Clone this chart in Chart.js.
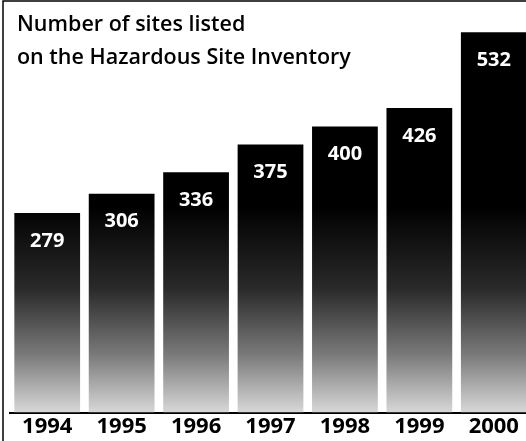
<!DOCTYPE html>
<html>
<head>
<meta charset="utf-8">
<script src="https://cdn.jsdelivr.net/npm/chart.js@4"></script>
<style>
  html, body { margin: 0; padding: 0; background: #fff; overflow: hidden; }
  #wrap { position: relative; width: 531px; height: 441px; }
</style>
</head>
<body>
<div id="wrap"><canvas id="chart"></canvas></div>
<script>
const years = ["1994", "1995", "1996", "1997", "1998", "1999", "2000"];
const sites = [279, 306, 336, 375, 400, 426, 532];
const titleLines = ["Number of sites listed", "on the Hazardous Site Inventory"];

const FONT = "'Open Sans', 'Noto Sans', sans-serif";

// title, frame lines and value labels inside the bars
const decor = {
    id: "decor",
    afterDraw(chart){
        const c = chart.ctx;
        c.save();
        c.strokeStyle = "#000";
        c.lineWidth = 1.5;
        c.beginPath();
        c.moveTo(3, 441);
        c.lineTo(3, 1);
        c.lineTo(526, 1);
        c.stroke();

        c.fillStyle = "#000";
        c.font = "600 21.5px " + FONT;
        c.textBaseline = "alphabetic";
        c.textAlign = "left";
        c.fillText(titleLines[0], 17, 31);
        c.fillText(titleLines[1], 17, 64);

        const meta = chart.getDatasetMeta(0);
        c.fillStyle = "#fff";
        c.font = "bold 20px " + FONT;
        c.textAlign = "center";
        c.textBaseline = "middle";
        meta.data.forEach((bar, i) => {
            c.fillText(sites[i], bar.x, bar.y + 28);
        });
        c.restore();
    }
};

new Chart(document.getElementById("chart"), {
    type: "bar",
    data: {
        labels: years,
        datasets: [{
            data: sites,
            backgroundColor: (ctx) => {
                const area = ctx.chart.chartArea;
                if (!area) return "#000";
                const g = ctx.chart.ctx.createLinearGradient(0, area.top, 0, area.bottom);
                g.addColorStop(0, "#000");
                g.addColorStop(0.5, "#000");
                g.addColorStop(0.7, "#2a2a2a");
                g.addColorStop(0.86, "#7a7a7a");
                g.addColorStop(1, "#d8d8d8");
                return g;
            },
            barPercentage: 0.95,
            categoryPercentage: 0.93
        }]
    },
    options: {
        responsive: true,
        maintainAspectRatio: false,
        animation: false,
        layout: { padding: { left: 10, top: 0, right: 0, bottom: 0 } },
        plugins: {
            legend: { display: false },
            tooltip: { enabled: false }
        },
        scales: {
            x: {
                grid: { display: false, drawTicks: false },
                border: { color: "#000", width: 2 },
                ticks: {
                    color: "#000",
                    font: { family: FONT, size: 22, weight: "bold" },
                    padding: 1
                }
            },
            y: {
                display: false,
                min: 0,
                max: 577
            }
        }
    },
    plugins: [decor]
});
</script>
</body>
</html>
